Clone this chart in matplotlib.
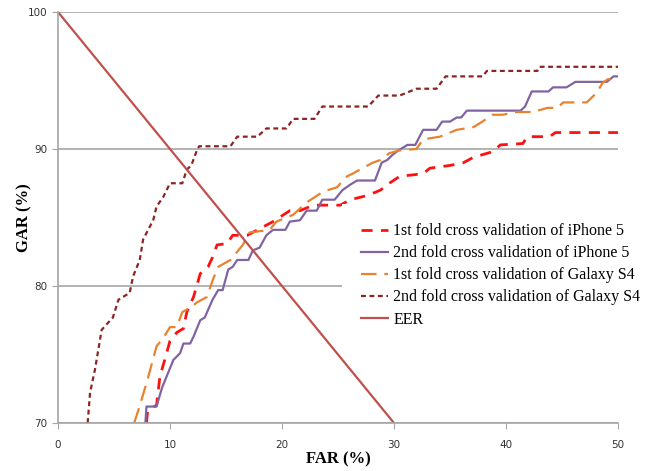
import matplotlib
matplotlib.use("Agg")
import matplotlib.pyplot as plt

# 1st fold cross validation of iPhone 5
far_ip1 = [7.9, 8.0, 8.8, 9.1, 9.6, 10.0, 10.6, 11.2, 11.5, 12.1, 12.7, 13.4, 13.8, 14.2, 15.1, 15.6,
           16.9, 19.2, 20.7, 21.6, 22.8, 25.2, 26.1, 27.6, 28.8, 29.4, 30.5, 32.6, 33.2, 35.0, 36.2,
           37.1, 38.8, 39.5, 41.5, 41.9, 43.9, 44.4, 50.0]
gar_ip1 = [70.0, 70.9, 71.3, 73.4, 74.8, 76.0, 76.6, 76.9, 78.1, 79.2, 80.9, 81.4, 82.1, 83.0, 83.1, 83.7,
           83.7, 84.7, 85.5, 85.5, 85.9, 85.9, 86.3, 86.6, 87.0, 87.4, 88.0, 88.2, 88.6, 88.8, 89.0,
           89.4, 89.8, 90.3, 90.4, 90.9, 90.9, 91.2, 91.2]

# 2nd fold cross validation of iPhone 5
far_ip2 = [7.8, 7.9, 8.8, 8.9, 9.3, 9.7, 10.3, 10.9, 11.2, 11.8, 12.1, 12.7, 13.1, 13.8, 14.3, 14.7,
           15.2, 15.6, 16.0, 17.0, 17.4, 18.0, 18.6, 19.2, 20.3, 20.7, 21.6, 22.2, 23.1, 23.6, 24.7,
           25.4, 26.1, 26.7, 28.3, 28.9, 29.4, 29.9, 30.4, 31.2, 31.9, 32.6, 33.8, 34.3, 35.0, 35.6,
           36.0, 36.5, 41.3, 41.7, 42.3, 43.8, 44.2, 45.4, 46.2, 49.0, 49.6, 50.0]
gar_ip2 = [70.0, 71.2, 71.2, 71.5, 72.6, 73.4, 74.6, 75.1, 75.8, 75.8, 76.3, 77.5, 77.7, 79.0, 79.7, 79.7,
           81.2, 81.4, 81.9, 81.9, 82.6, 82.8, 83.7, 84.1, 84.1, 84.7, 84.8, 85.5, 85.5, 86.3, 86.3,
           87.0, 87.4, 87.7, 87.7, 89.0, 89.2, 89.6, 89.9, 90.3, 90.3, 91.4, 91.4, 92.0, 92.0, 92.3,
           92.3, 92.8, 92.8, 93.1, 94.2, 94.2, 94.5, 94.5, 94.9, 94.9, 95.3, 95.3]

# 1st fold cross validation of Galaxy S4
far_gs1 = [6.8, 7.2, 7.9, 8.4, 8.8, 9.4, 10.0, 10.6, 11.1, 11.8, 12.4, 13.3, 13.8, 14.3, 15.4, 16.0,
           16.5, 17.1, 18.9, 19.5, 21.0, 22.2, 23.7, 24.9, 25.8, 26.3, 28.1, 28.8, 29.6, 30.5, 32.0,
           32.6, 34.1, 35.6, 37.1, 37.7, 38.8, 39.7, 41.0, 42.4, 43.7, 44.6, 45.1, 47.2, 48.1, 48.6,
           49.1, 50.0]
gar_gs1 = [70.0, 71.0, 72.9, 74.4, 75.6, 76.2, 77.0, 77.0, 78.1, 78.4, 78.8, 79.2, 80.4, 81.4, 81.9, 82.5,
           83.0, 83.9, 84.1, 84.7, 85.2, 86.1, 86.9, 87.2, 88.0, 88.2, 89.0, 89.2, 89.7, 89.9, 90.0,
           90.7, 90.9, 91.4, 91.6, 91.9, 92.5, 92.5, 92.7, 92.7, 93.0, 93.0, 93.4, 93.4, 94.1, 94.8,
           95.1, 95.1]

# 2nd fold cross validation of Galaxy S4
far_gs2 = [2.65, 2.86, 3.3, 3.9, 4.9, 5.4, 6.4, 6.7, 7.3, 7.6, 8.5, 8.8, 9.4, 10.0, 11.1, 11.5, 11.9,
           12.4, 12.6, 15.4, 16.0, 17.8, 18.6, 20.4, 21.0, 22.9, 23.6, 27.7, 28.6, 30.5, 32.0, 33.8,
           34.6, 37.9, 38.3, 42.8, 43.0, 50.0]
gar_gs2 = [70.0, 72.2, 73.9, 76.8, 77.7, 79.0, 79.5, 80.7, 81.9, 83.4, 84.8, 85.8, 86.5, 87.5, 87.5, 88.5,
           88.8, 89.9, 90.2, 90.2, 90.9, 90.9, 91.5, 91.5, 92.2, 92.2, 93.1, 93.1, 93.9, 93.9, 94.4,
           94.4, 95.3, 95.3, 95.7, 95.7, 96.0, 96.0]

# EER line
far_eer = [0, 30]
gar_eer = [100, 70]

labels = ["1st fold cross validation of iPhone 5",
          "2nd fold cross validation of iPhone 5",
          "1st fold cross validation of Galaxy S4",
          "2nd fold cross validation of Galaxy S4",
          "EER"]

fig = plt.figure(figsize=(6.56, 4.71), dpi=100)
ax = fig.add_axes([58 / 656, 1 - 423 / 471, 560 / 656, 411 / 471])

ax.plot(far_ip1, gar_ip1, color="#FF1010", lw=2.0, dashes=(4, 3), label=labels[0])
ax.plot(far_ip2, gar_ip2, color="#8064A2", lw=1.6, label=labels[1])
ax.plot(far_gs1, gar_gs1, color="#E8822F", lw=1.6, dashes=(7, 3.5), label=labels[2])
ax.plot(far_gs2, gar_gs2, color="#8B2525", lw=1.6, dashes=(2.2, 1.6), label=labels[3])
ax.plot(far_eer, gar_eer, color="#C0504D", lw=1.6, label=labels[4])

ax.set_xlim(0, 50)
ax.set_ylim(70, 100)
ax.set_xticks([0, 10, 20, 30, 40, 50])
ax.set_yticks([70, 80, 90, 100])
ax.yaxis.grid(True, color="#A6A6A6", lw=1.2)
ax.set_axisbelow(True)
for s in ["top", "right"]:
    ax.spines[s].set_visible(False)
for s in ["left", "bottom"]:
    ax.spines[s].set_color("#A6A6A6")
    ax.spines[s].set_linewidth(1.2)
ax.tick_params(axis="both", colors="#A6A6A6", length=4, labelcolor="#333333")
ax.tick_params(axis="x", pad=8)
ax.tick_params(axis="y", pad=3.5)
for lab in ax.get_xticklabels() + ax.get_yticklabels():
    lab.set_family(["Liberation Sans Narrow", "DejaVu Sans"])
    lab.set_fontsize(7.5)

ax.set_xlabel("FAR (%)", family="Liberation Serif", fontweight="bold", fontsize=12)
ax.set_ylabel("GAR (%)", family="Liberation Serif", fontweight="bold", fontsize=12)
ax.xaxis.set_label_coords(0.5, -0.068)
ax.yaxis.set_label_coords(-0.045, 0.5)

leg = ax.legend(loc="upper left", bbox_to_anchor=(0.493, 0.552), frameon=True,
                prop={"family": "Liberation Serif", "size": 11.5},
                handlelength=1.7, handletextpad=0.3, labelspacing=0.38,
                borderpad=1.2, fancybox=False)
leg.get_frame().set_facecolor("white")
leg.get_frame().set_edgecolor("none")
leg.get_frame().set_alpha(1)

fig.savefig("out.png", dpi=100)
